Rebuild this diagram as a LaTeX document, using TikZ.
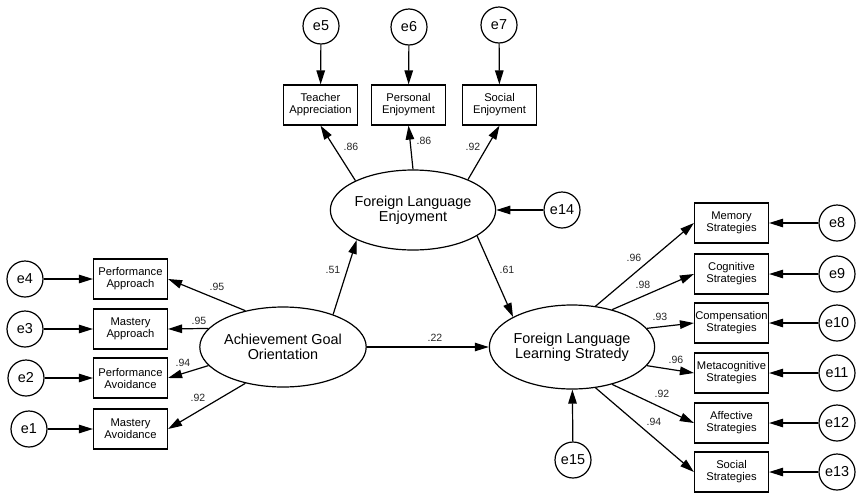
\documentclass[tikz,border=0pt]{standalone}
\usepackage{fontspec}
\setmainfont{Liberation Sans}
\usetikzlibrary{shapes.geometric,arrows.meta}
\tikzset{
  lat/.style={ellipse, draw, line width=1.2pt, minimum width=150pt, minimum height=80pt, inner sep=0pt, align=center, font=\fontsize{14.4}{15}\selectfont},
  obs/.style={rectangle, draw, line width=1.2pt, minimum width=74pt, minimum height=40pt, inner sep=0pt, align=center, font=\fontsize{11.2}{12}\selectfont},
  err/.style={circle, draw, line width=1.2pt, minimum size=36pt, inner sep=0pt, font=\fontsize{14.4}{14}\selectfont},
  pth/.style={-{Triangle[length=14pt,width=8.5pt]}, line width=1.2pt},
  lbl/.style={font=\fontsize{10.5}{10.5}\selectfont, text=black!85, inner sep=0pt}
}
\begin{document}
\begin{tikzpicture}[x=1pt,y=-1pt]
\useasboundingbox (0,0) rectangle (856,493);
% latent variables
\node[lat] (ago) at (283,347) {Achievement Goal\\Orientation};
\node[lat] (fle) at (413,210) {Foreign Language\\Enjoyment};
\node[lat, minimum height=84pt] (flls) at (572,347) {Foreign Language\\Learning Stratedy};
% left indicators
\node[obs] (pa) at (130.5,279) {Performance\\Approach};
\node[obs] (ma) at (130.5,329) {Mastery\\Approach};
\node[obs] (pav) at (130.5,378) {Performance\\Avoidance};
\node[obs] (mav) at (130.5,429) {Mastery\\Avoidance};
\node[err] (e4) at (25,279) {e4};
\node[err] (e3) at (25,329) {e3};
\node[err] (e2) at (26,378) {e2};
\node[err] (e1) at (29,429) {e1};
% top indicators
\node[obs] (ta) at (320.5,105) {Teacher\\Appreciation};
\node[obs] (pe) at (408.5,105) {Personal\\Enjoyment};
\node[obs] (se) at (499.5,105) {Social\\Enjoyment};
\node[err] (e5) at (321,26) {e5};
\node[err] (e6) at (409,27) {e6};
\node[err] (e7) at (499,25) {e7};
\node[err] (e14) at (562,210) {e14};
% right indicators
\node[obs] (ms) at (731.5,223) {Memory\\Strategies};
\node[obs] (cs) at (731.5,274) {Cognitive\\Strategies};
\node[obs] (cps) at (731.5,323) {Compensation\\Strategies};
\node[obs] (mcs) at (731.5,373) {Metacognitive\\Strategies};
\node[obs] (as) at (731.5,423) {Affective\\Strategies};
\node[obs] (ss) at (731.5,472) {Social\\Strategies};
\node[err] (e8) at (837,223) {e8};
\node[err] (e9) at (837,274) {e9};
\node[err] (e10) at (837,323) {e10};
\node[err] (e11) at (837,373) {e11};
\node[err] (e12) at (837,423) {e12};
\node[err] (e13) at (837,472) {e13};
\node[err] (e15) at (573,460) {e15};
% error arrows
\draw[pth] (e4) -- (pa);
\draw[pth] (e3) -- (ma);
\draw[pth] (e2) -- (pav);
\draw[pth] (e1) -- (mav);
\draw[pth] (e5) -- (ta);
\draw[pth] (e6) -- (pe);
\draw[pth] (e7) -- (se);
\draw[pth] (e14) -- (fle);
\draw[pth] (e8) -- (ms);
\draw[pth] (e9) -- (cs);
\draw[pth] (e10) -- (cps);
\draw[pth] (e11) -- (mcs);
\draw[pth] (e12) -- (as);
\draw[pth] (e13) -- (ss);
\draw[pth] (e15) -- (flls);
% loadings
\draw[pth] (ago.136) -- (pa.east);
\draw[pth] (ago.166) -- (ma.east);
\draw[pth] (ago.194) -- (pav.east);
\draw[pth] (ago.224) -- (mav.east);
\draw[pth] (fle.153) -- (ta.south);
\draw[pth] (fle.north) -- (pe.south);
\draw[pth] (fle.29) -- (se.south);
\draw[pth] (flls.60) -- (ms.west);
\draw[pth] (flls.43) -- (cs.west);
\draw[pth] (flls.14) -- (cps.west);
\draw[pth] (flls.-14) -- (mcs.west);
\draw[pth] (flls.-43) -- (as.west);
\draw[pth] (flls.-60) -- (ss.west);
% structural paths
\draw[pth] (ago.33) -- (fle.208);
\draw[pth] (fle.-22) -- (flls.153);
\draw[pth] (ago.east) -- (flls.west);
% labels
\node[lbl] (l1) at (217,287) {.95};
\node[lbl] (l2) at (199,321) {.95};
\node[lbl] (l3) at (183,363) {.94};
\node[lbl] (l4) at (198,398) {.92};
\node[lbl] (l5) at (333,270) {.51};
\node[lbl] (l6) at (351,147) {.86};
\node[lbl] (l7) at (424,141) {.86};
\node[lbl] (l8) at (473,147) {.92};
\node[lbl] (l9) at (507,270) {.61};
\node[lbl] (l10) at (435,338) {.22};
\node[lbl] (l11) at (634,258) {.96};
\node[lbl] (l12) at (643,285) {.98};
\node[lbl] (l13) at (660,317) {.93};
\node[lbl] (l14) at (676,360) {.96};
\node[lbl] (l15) at (662,394) {.92};
\node[lbl] (l16) at (654,422) {.94};
\end{tikzpicture}
\end{document}
